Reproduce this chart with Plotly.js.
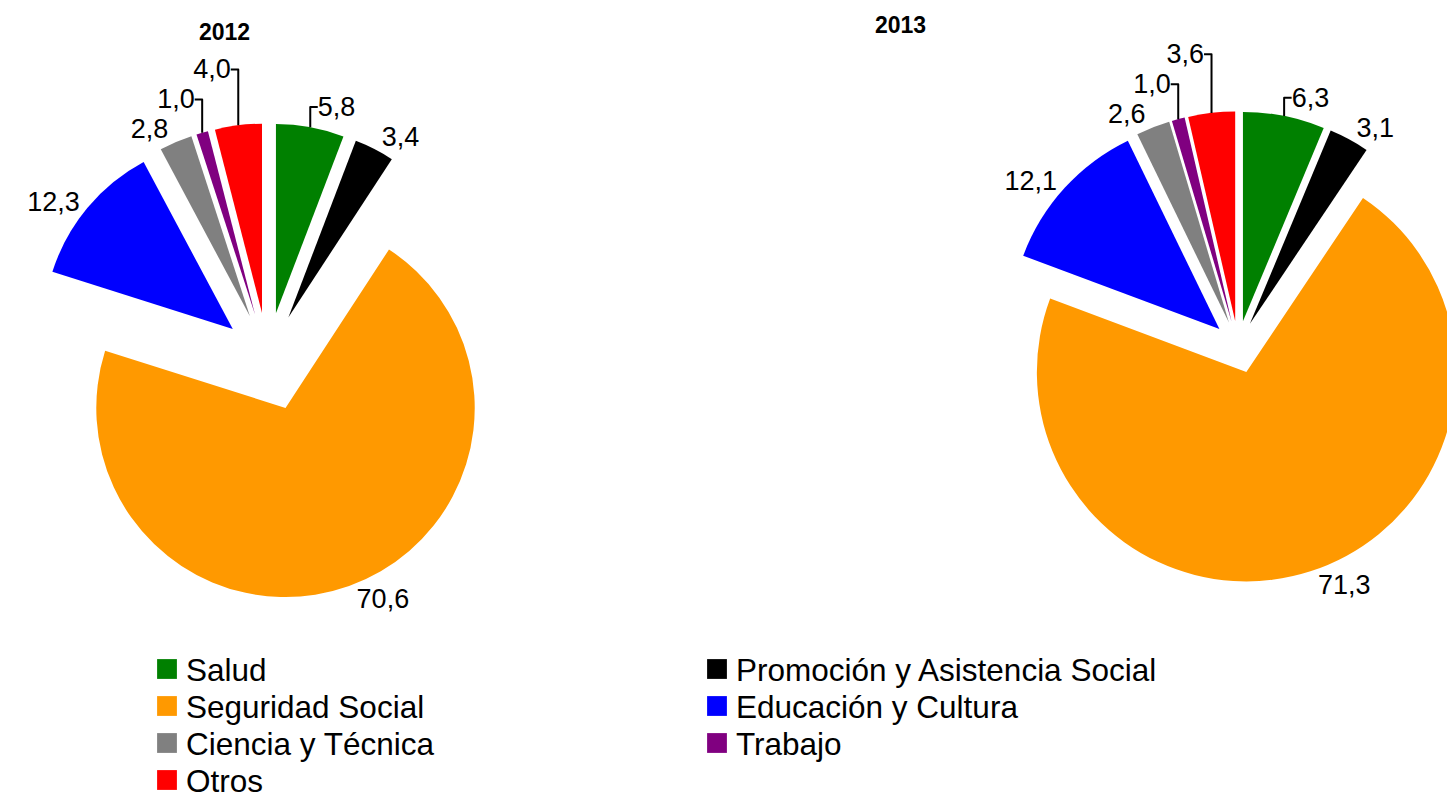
<!DOCTYPE html>
<html>
<head>
<meta charset="utf-8">
<script src="https://cdn.plot.ly/plotly-3.0.1.min.js"></script>
<style>
html,body{margin:0;padding:0;overflow:hidden;background:#fff;}
#chart{width:1480px;height:794px;}
</style>
</head>
<body>
<div id="chart"></div>
<script>
// ---- data ----
const categories = ["Salud","Promoción y Asistencia Social","Seguridad Social","Educación y Cultura","Ciencia y Técnica","Trabajo","Otros"];
const values2012 = [5.8, 3.4, 70.6, 12.3, 2.8, 1.0, 4.0];
const values2013 = [6.3, 3.1, 71.3, 12.1, 2.6, 1.0, 3.6];
const years = ["2012", "2013"];
const colors = ["#008000","#000000","#FF9900","#0000FF","#808080","#800080","#FF0000"];

const W = 1480, H = 794;
const FONT = "Liberation Sans, Arial, sans-serif";

const pull2012 = [0.24, 0.24, 0.28, 0.24, 0.24, 0.24, 0.24];
const pull2013 = [0.12, 0.12, 0.13, 0.12, 0.12, 0.12, 0.12];

function pieTrace(vals, pulls, dom) {
  return {
    type: "pie",
    labels: categories,
    values: vals,
    sort: false,
    direction: "clockwise",
    rotation: 0,
    pull: pulls,
    marker: {colors: colors, line: {width: 0}},
    textposition: "outside",
    texttemplate: "%{value:.1f}",
    outsidetextfont: {family: FONT, size: 27, color: "#000"},
    hoverinfo: "label+value",
    domain: dom
  };
}

const data = [
  pieTrace(values2012, pull2012, {x: [25.5 / W, 509.9 / W], y: [1 - 600.2 / H, 1 - 115.8 / H]}),
  pieTrace(values2013, pull2013, {x: [1001.3 / W, 1474.7 / W], y: [1 - 582.7 / H, 1 - 109.3 / H]})
];

const layout = {
  width: W, height: H,
  margin: {l: 0, r: 0, t: 0, b: 0, autoexpand: false},
  paper_bgcolor: "#fff",
  separators: ",.",
  font: {family: FONT, color: "#000"},
  showlegend: true,
  legend: {
    orientation: "h",
    x: 146 / W, xanchor: "left",
    y: 1 - 642 / H, yanchor: "top",
    entrywidth: 505, entrywidthmode: "pixels",
    font: {family: FONT, size: 31.5, color: "#000"},
    bgcolor: "rgba(0,0,0,0)"
  },
  annotations: [
    {text: "<b>" + years[0] + "</b>", x: 224 / W, y: 1 - 32 / H, xref: "paper", yref: "paper",
     xanchor: "center", yanchor: "middle", showarrow: false, font: {family: FONT, size: 23, color: "#000"}},
    {text: "<b>" + years[1] + "</b>", x: 900 / W, y: 1 - 25 / H, xref: "paper", yref: "paper",
     xanchor: "center", yanchor: "middle", showarrow: false, font: {family: FONT, size: 23, color: "#000"}}
  ]
};

function tweakLegend() {
  const items = Array.from(document.querySelectorAll('.legend .traces'));
  const parsed = items.map(el => {
    const m = /translate\(\s*([-\d.eE]+)[ ,]+([-\d.eE]+)\s*\)/.exec(el.getAttribute('transform') || '');
    return m ? {el, x: parseFloat(m[1]), y: parseFloat(m[2])} : null;
  }).filter(Boolean);
  const ys = Array.from(new Set(parsed.map(p => Math.round(p.y)))).sort((a, b) => a - b);
  parsed.forEach(p => {
    const row = ys.indexOf(Math.round(p.y));
    p.el.setAttribute('transform', 'translate(' + p.x + ',' + (ys[0] + row * 37) + ')');
  });
  document.querySelectorAll('.legend path.legendpie').forEach(el => {
    el.setAttribute('transform', 'translate(21,0) scale(1.65)');
  });
  document.querySelectorAll('.legend .scrollbox').forEach(el => el.removeAttribute('clip-path'));
  document.querySelectorAll('.legend .scrollbar').forEach(el => el.setAttribute('display', 'none'));
}

Plotly.newPlot('chart', data, layout, {displayModeBar: false, staticPlot: true}).then(tweakLegend);
</script>
</body>
</html>
